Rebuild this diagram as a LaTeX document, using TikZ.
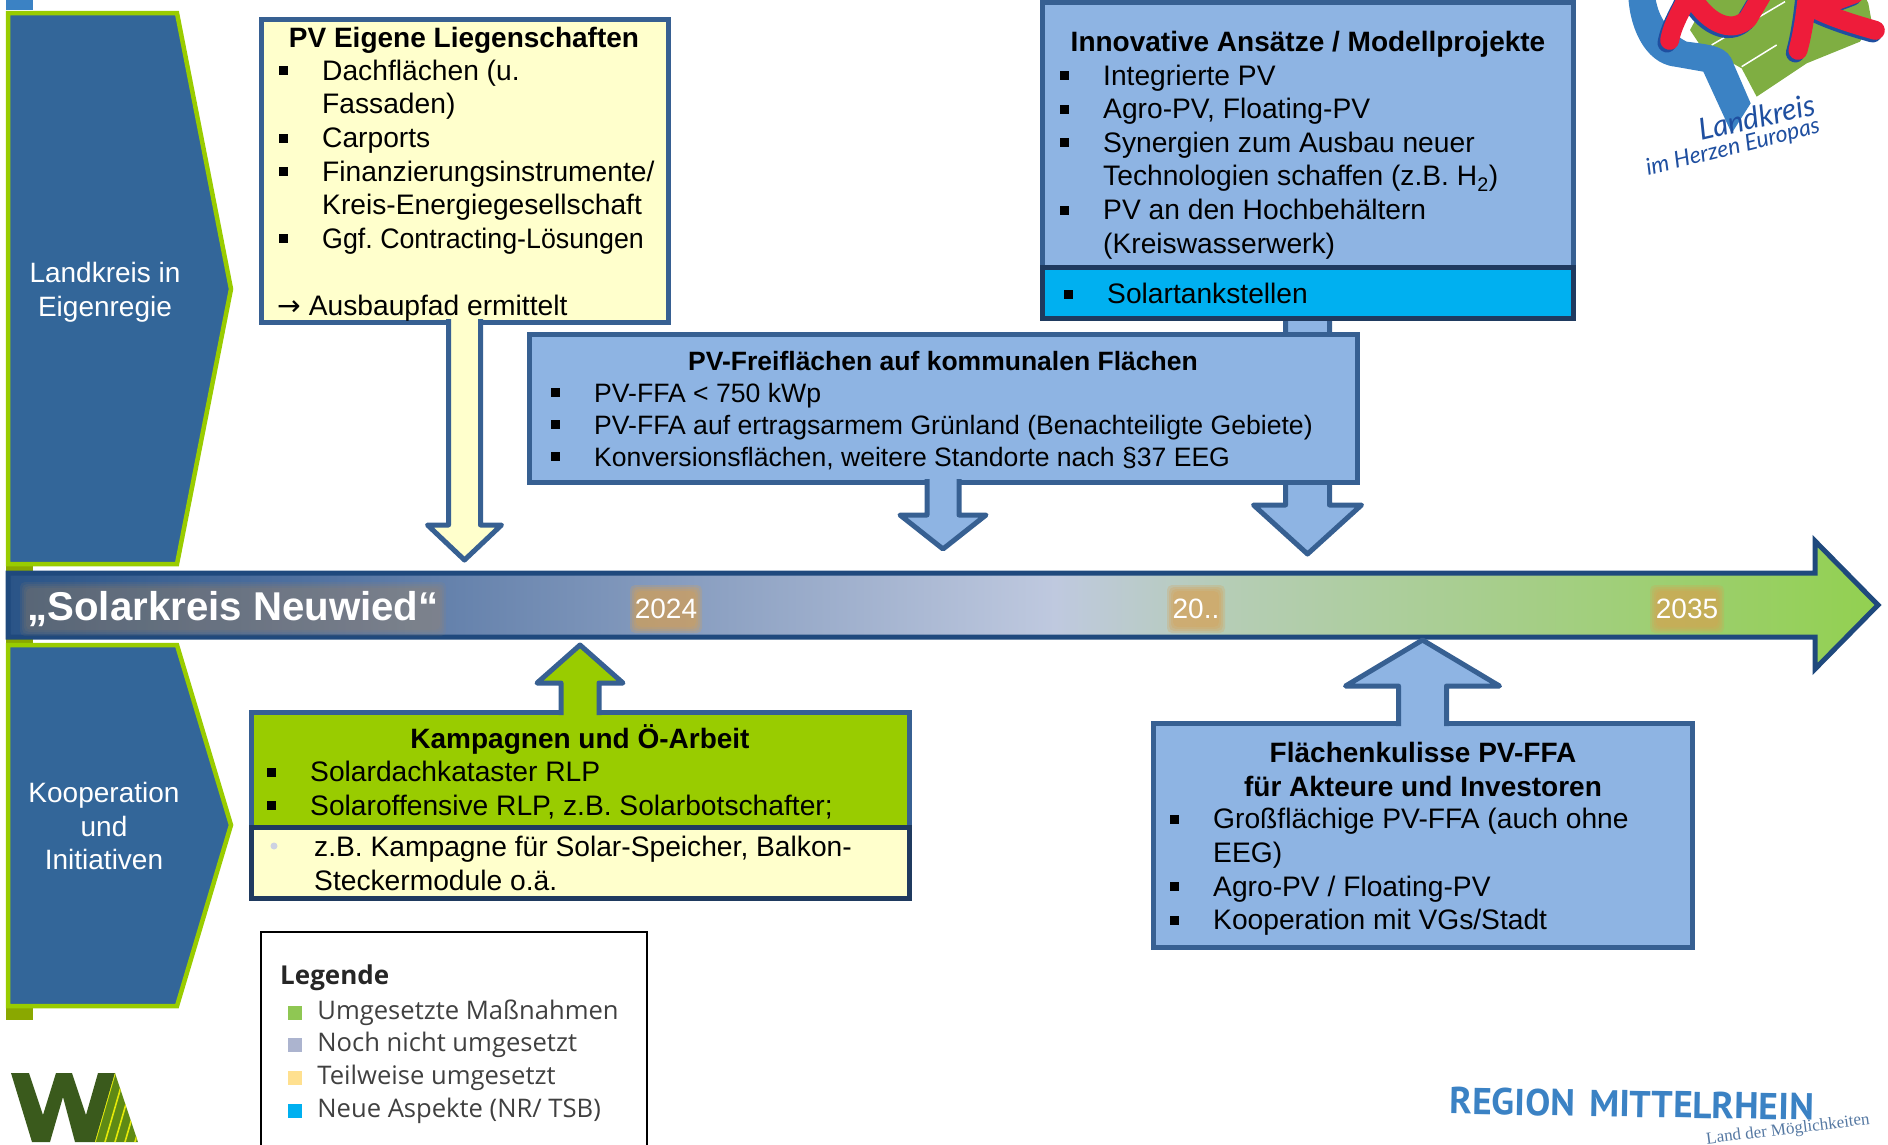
\documentclass[tikz,border=0pt]{standalone}
\usepackage{fontspec}
\usetikzlibrary{positioning}
\setmainfont{Liberation Sans}
\newfontfamily\legendfont{Open Sans}
\newfontfamily\logofont{Lato}
\newfontfamily\regionfont{PT Sans}
\newfontfamily\subfont{Liberation Serif}
\newfontfamily\arrowfont{DejaVu Sans}
\definecolor{pvyellow}{HTML}{FFFFCC}
\definecolor{pvblue}{HTML}{8EB4E3}
\definecolor{pvline}{HTML}{376092}
\definecolor{pvdark}{HTML}{1F3A5F}
\definecolor{pvgreen}{HTML}{99CC00}
\definecolor{pvcyan}{HTML}{00B0F0}
\definecolor{chevfill}{HTML}{336699}
\definecolor{barline}{HTML}{1F497D}
\definecolor{stripgreen}{HTML}{8AA800}
\definecolor{logoblue}{HTML}{3B82C4}
\definecolor{logogreen}{HTML}{7FAE42}
\definecolor{logored}{HTML}{EE1C3A}
\definecolor{logotext}{HTML}{1F4FA0}
\definecolor{markdone}{HTML}{8FC753}
\definecolor{marknot}{HTML}{ACB4CF}
\definecolor{markpart}{HTML}{FFE08F}
\definecolor{wdark}{HTML}{3A5A1C}
\definecolor{wlight}{HTML}{5F8A14}
\definecolor{barA}{HTML}{2A5487}
\definecolor{barB}{HTML}{5071A0}
\definecolor{barC}{HTML}{BFC9DF}
\definecolor{barD}{HTML}{B5CDB5}
\definecolor{barE}{HTML}{92D050}
\definecolor{glowA}{HTML}{B08A5A}
\definecolor{glowB}{HTML}{D9A050}
\pgfdeclarehorizontalshading{barshade}{100bp}{
color(0bp)=(barA);
color(25bp)=(barA);
color(33bp)=(barB);
color(53bp)=(barC);
color(57.7bp)=(barD);
color(75bp)=(barE);
color(100bp)=(barE)}
\tikzset{
listtext/.style={anchor=north west,align=flush left,inner sep=0pt,text width=#1,font=\fontsize{28.2}{33.6}\selectfont},
titletext/.style={anchor=base,inner sep=0pt,font=\fontsize{28}{33.6}\selectfont\bfseries},
yeartext/.style={inner sep=0pt,text=white,font=\fontsize{28}{33.6}\selectfont},
chevtext/.style={inner sep=0pt,text=white,align=center,font=\fontsize{28}{33.6}\selectfont},
legendtext/.style={anchor=west,inner sep=0pt,text=black!75,font=\fontsize{25.6}{30}\legendfont},
pvbox/.style={draw=pvline,line width=5pt,anchor=north west,inner sep=0pt,outer sep=0pt,fill=#1},
darkbox/.style={draw=pvdark,line width=5pt,anchor=north west,inner sep=0pt,outer sep=0pt,fill=#1},
chevron/.style={draw=pvgreen,fill=chevfill,line width=4.5pt,miter limit=10},
pvarrow/.style={draw=pvline,line width=5pt,fill=#1,line join=round},
legendmark/.style={inner sep=0pt,minimum size=14pt,fill=#1}
}
\providecommand{\Item}[1]{\par\noindent\makebox[43pt][l]{\rule[5pt]{8.5pt}{9pt}}#1\strut}
\providecommand{\Next}[1]{\par\noindent\hspace*{43pt}#1\strut}
\providecommand{\Chevron}[3]{
\draw[chevron] (8,#1) -- (177,#1) -- (231,#2) -- (177,#3) -- (8,#3) -- cycle;
}
\providecommand{\BlockArrow}[6]{
\draw[pvarrow=#1] (#2) ++(-#3,{-3*sign(#5)}) -- ++(0,{#5+3*sign(#5)}) -- ++({#3-#4},0) -- ++(#4,{#6-#5}) -- ++(#4,{#5-#6}) -- ++({#3-#4},0) -- ++(0,{-#5-3*sign(#5)});
}
\providecommand{\Glow}[5]{
\foreach \g in {1,3,5,7}{
\fill[#2,opacity=#5,rounded corners=5pt] (#1) ++({-#3-\g},{-#4-\g}) rectangle ++({2*#3+2*\g},{2*#4+2*\g});
}
}

\begin{document}
\begin{tikzpicture}[x=1pt,y=-1pt]
\useasboundingbox (0,0) rectangle (1888,1144);
\fill[logoblue] (6,0) rectangle (33,10);
\fill[stripgreen] (6,562) rectangle (33,572);
\fill[stripgreen] (6,638) rectangle (33,655);
\fill[stripgreen] (6,1000) rectangle (33,1020);
\Chevron{13}{289}{564}
\Chevron{645}{825}{1006}
\node[chevtext] (chevown) at (105,292) {Landkreis in\\Eigenregie};
\node[chevtext] (chevcoop) at (104,826) {Kooperation\\und\\Initiativen};
\draw[shade,shading=barshade,draw=barline,line width=5pt,miter limit=10] (8,573) -- (1815,573) -- (1815,541) -- (1878,605) -- (1815,669) -- (1815,637) -- (8,637) -- cycle;
\coordinate (gtitle) at (233,609);
\coordinate (g2024) at (666,609);
\coordinate (g20) at (1196,609);
\coordinate (g2035) at (1687,609);
\Glow{gtitle}{glowA}{206}{20}{.1}
\Glow{g2024}{glowB}{29}{17}{.25}
\Glow{g20}{glowB}{22}{17}{.25}
\Glow{g2035}{glowB}{30}{17}{.25}
\node[yeartext,font=\fontsize{40.2}{44}\selectfont\bfseries] (bartitle) at (gtitle) {„Solarkreis Neuwied“};
\node[yeartext] (y2024) at (g2024) {2024};
\node[yeartext] (y20) at (g20) {20..};
\node[yeartext] (y2035) at (g2035) {2035};
% upper row
\node[pvbox=pvyellow,minimum width=407pt,minimum height=303pt] (pveigen) at (261,19) {};
\node[pvbox=pvblue,minimum width=531pt,minimum height=265pt] (innov) at (1042,2) {};
\coordinate (innovfoot) at ([yshift=-20pt]innov.south);
\BlockArrow{pvblue}{innovfoot}{22}{54}{218}{267}
\node[darkbox=pvcyan,minimum width=531pt,minimum height=51pt] (solartank) at (1042,267) {};
\node[pvbox=pvblue,minimum width=828pt,minimum height=148pt] (pvfrei) at (529,334) {};
\BlockArrow{pvyellow}{pveigen.south}{16}{37}{203}{238}
\BlockArrow{pvblue}{pvfrei.south}{16}{43}{33}{67}
\node[titletext] (pveigentitle) at (464,47) {PV Eigene Liegenschaften};
\node[listtext=400pt] (pveigenlist) at (279,46.5) {\Item{Dachflächen (u.}\Next{Fassaden)}\Item{Carports}\Item{Finanzierungsinstrumente/}\Next{Kreis-Energiegesellschaft}\Item{\scalebox{.95}[1]{\frenchspacing Ggf. Contracting-Lösungen}}\par\noindent\strut\par\noindent\hspace*{-2pt}{\arrowfont →}\hspace{8pt}Ausbaupfad ermittelt\strut};
\node[titletext] (innovtitle) at (1308,51) {Innovative Ansätze / Modellprojekte};
\node[listtext=500pt] (innovlist) at (1060,51.3) {\Item{Integrierte PV}\Item{Agro-PV, Floating-PV}\Item{Synergien zum Ausbau neuer}\Next{Technologien schaffen (z.B. H\textsubscript{2})}\Item{PV an den Hochbehältern}\Next{(Kreiswasserwerk)}};
\node[listtext=450pt] (solarlist) at (1064,270) {\Item{Solartankstellen}};
\node[titletext,font=\fontsize{26.5}{32}\selectfont\bfseries] (pvfreititle) at (943,370) {PV-Freiflächen auf kommunalen Flächen};
\node[listtext=790pt,font=\fontsize{26.6}{32}\selectfont] (pvfreilist) at (551,370) {\Item{PV-FFA < 750 kWp}\Item{PV-FFA auf ertragsarmem Grünland (Benachteiligte Gebiete)}\Item{Konversionsflächen, weitere Standorte nach §37 EEG}};
% lower row
\node[pvbox=pvgreen,minimum width=658pt,minimum height=115pt] (kampagne) at (251,712) {};
\BlockArrow{pvgreen}{kampagne.north}{19}{43}{-29}{-67}
\node[darkbox=pvyellow,minimum width=658pt,minimum height=71pt] (kampyellow) at (251,827) {};
\node[titletext] (kamptitle) at (580,748) {Kampagnen und Ö-Arbeit};
\node[listtext=630pt] (kamplist) at (267,748) {\Item{Solardachkataster RLP}\Item{Solaroffensive RLP, z.B. Solarbotschafter;}};
\node[fill=marknot!60,circle,inner sep=0pt,minimum size=7pt] (kampdot) at (274,846) {};
\node[listtext=590pt] (kampyellist) at (314,836) {z.B. Kampagne für Solar-Speicher, Balkon-\par\noindent Steckermodule o.ä.\strut};
\node[pvbox=pvblue,minimum width=539pt,minimum height=224pt] (flaechen) at (1153,723) {};
\BlockArrow{pvblue}{flaechen.north}{24}{77}{-37}{-83}
\node[titletext] (flaechentitle) at (1423,762) {Flächenkulisse PV-FFA};
\node[titletext] (flaechentitleb) at (1423,796) {für Akteure und Investoren};
\node[listtext=510pt] (flaechenlist) at (1170,795) {\Item{Großflächige PV-FFA (auch ohne}\Next{EEG)}\Item{Agro-PV / Floating-PV}\Item{Kooperation mit VGs/Stadt}};
% legend
\node[draw=black,line width=2pt,anchor=north west,inner sep=0pt,minimum width=386pt,minimum height=240pt] (legend) at (260,931) {};
\node[anchor=base west,inner sep=0pt,font=\fontsize{26}{30}\legendfont\bfseries,text=black!85] (legendtitle) at (280,984) {Legende};
\node[legendmark=markdone] (leftdone) at (295,1012.5) {};
\node[legendtext,right=15pt of leftdone] (textdone) {Umgesetzte Maßnahmen};
\node[legendmark=marknot] (leftnot) at (295,1044.5) {};
\node[legendtext,right=15pt of leftnot] (textnot) {Noch nicht umgesetzt};
\node[legendmark=markpart] (leftpart) at (295,1077.5) {};
\node[legendtext,right=15pt of leftpart] (textpart) {Teilweise umgesetzt};
\node[legendmark=pvcyan] (leftnew) at (295,1110.5) {};
\node[legendtext,right=15pt of leftnew] (textnew) {Neue Aspekte (NR/ TSB)};
% logos
\begin{scope}[shift={(1600,0)},x=.3333pt,y=-.3333pt]
\fill[logogreen] (270,90) -- (300,135) -- (425,205) -- (470,290) -- (620,190) -- (780,125) -- (815,65) -- (805,10) -- (790,-20) -- (330,-20) -- cycle;
\draw[white,line width=1.5pt] (335,135) -- (555,5);
\draw[white,line width=1.5pt] (425,200) -- (530,135);
\fill[logoblue] (85,-20) .. controls (85,70) and (130,190) .. (225,200) -- (310,215) -- (395,400) -- (452,310) -- (400,190) .. controls (385,140) and (340,135) .. (260,125) .. controls (210,100) and (170,50) .. (165,-20) -- cycle;
\foreach \col/\off in {logotext/-4,logored/4}{
\draw[\col,line width=19pt,line cap=round,line join=round,shift={(\off,-\off)}] (205,125) .. controls (215,70) and (245,30) .. (265,-20) .. controls (310,70) and (390,110) .. (440,60) -- (490,-25);
\draw[\col,line width=19pt,line cap=round,line join=round,shift={(\off,-\off)}] (590,155) .. controls (605,100) and (612,50) .. (620,-25);
\draw[\col,line width=19pt,line cap=round,line join=round,shift={(\off,-\off)}] (640,30) .. controls (700,60) and (770,80) .. (822,95);
\draw[\col,line width=19pt,line cap=round,line join=round,shift={(\off,-\off)}] (640,30) -- (760,-15);
}
\end{scope}
\node[rotate=13,inner sep=0pt,text=logotext,font=\fontsize{30}{32}\logofont\itshape] (logoland) at (1757,117) {Landkreis};
\node[rotate=14,inner sep=0pt,text=logotext,font=\fontsize{23}{28}\logofont\itshape] (logoherz) at (1733,148) {im Herzen Europas};
\begin{scope}
\clip (0,1000) rectangle (200,1144);
\fill[wdark] (11,1073) -- (29,1073) -- (43,1115) -- (56,1073) -- (72,1073) -- (86,1115) -- (98,1073) -- (115,1073) -- (95,1142) -- (75,1142) -- (63,1097) -- (50,1142) -- (32,1142) -- cycle;
\clip (115,1073) -- (138,1142) -- (95,1142) -- cycle;
\fill[wlight] (90,1060) rectangle (140,1144);
\foreach \s in {0,10,20,30,40}{
\draw[yellow!90!green,line width=1.6pt] (115+\s,1073) -- (95+\s,1142);
}
\end{scope}
\node[rotate=-1,inner sep=0pt,text=logoblue,font=\fontsize{37.5}{40}\regionfont\bfseries] (regionname) at (1632,1104) {REGION\hspace{14pt}MITTELRHEIN};
\node[rotate=7,inner sep=0pt,text=pvline!85,font=\fontsize{17}{20}\subfont] (regionsub) at (1788,1130) {Land der Möglichkeiten};
\end{tikzpicture}
\end{document}
